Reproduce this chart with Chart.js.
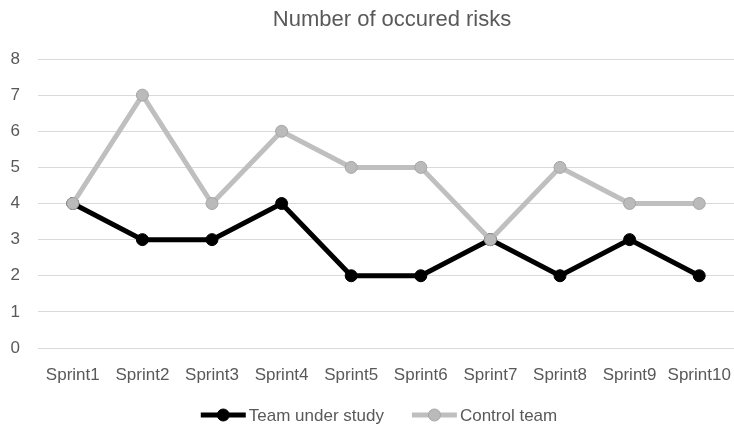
<!DOCTYPE html>
<html>
<head>
<meta charset="utf-8">
<script src="https://cdn.jsdelivr.net/npm/chart.js@4/dist/chart.umd.min.js"></script>
<style>
  html, body { margin: 0; padding: 0; background: #ffffff; }
  #wrap { width: 734px; height: 428px; }
</style>
</head>
<body>
<div id="wrap"><canvas id="c" width="734" height="428"></canvas></div>
<script>
const sprints = ['Sprint1','Sprint2','Sprint3','Sprint4','Sprint5','Sprint6','Sprint7','Sprint8','Sprint9','Sprint10'];
const teamUnderStudy = [4, 3, 3, 4, 2, 2, 3, 2, 3, 2];
const controlTeam = [4, 7, 4, 6, 5, 5, 3, 5, 4, 4];
const yTicks = [0, 1, 2, 3, 4, 5, 6, 7, 8];
const chartTitle = 'Number of occured risks';

const FONT = '"Liberation Sans", "DejaVu Sans", sans-serif';
const TEXT = '#595959';

// order: lower value is painted on top, so the control line sits above the black one
const series = [
  { label: 'Team under study', data: teamUnderStudy, line: '#000000', fill: '#000000', border: '#000000', order: 1 },
  { label: 'Control team', data: controlTeam, line: '#bfbfbf', fill: '#bababa', border: '#a5a5a5', order: 0 }
];

// title above the plot and a legend row with line+marker swatches below the axis
const decorations = {
  id: 'decorations',
  afterDraw(chart) {
    const g = chart.ctx;
    g.save();
    g.fillStyle = TEXT;
    g.textBaseline = 'middle';
    g.textAlign = 'center';
    g.font = '22px ' + FONT;
    g.fillText(chartTitle, 392, 20);

    g.font = '17px ' + FONT;
    g.textAlign = 'left';
    const sw = 45, gapText = 3, gapItem = 28, y = 415;
    const widths = series.map(s => g.measureText(s.label).width);
    const total = widths.reduce((a, w) => a + sw + gapText + w, 0) + gapItem * (series.length - 1);
    let x = 379 - total / 2;
    series.forEach((s, i) => {
      g.strokeStyle = s.line; g.lineWidth = 5; g.lineCap = 'butt';
      g.beginPath(); g.moveTo(x, y); g.lineTo(x + sw, y); g.stroke();
      g.beginPath(); g.arc(x + sw / 2, y, 6, 0, Math.PI * 2);
      g.fillStyle = s.fill; g.fill();
      g.lineWidth = 1; g.strokeStyle = s.border; g.stroke();
      g.fillStyle = TEXT;
      g.fillText(s.label, x + sw + gapText, y + 1);
      x += sw + gapText + widths[i] + gapItem;
    });
    g.restore();
  }
};

new Chart(document.getElementById('c'), {
  type: 'line',
  data: {
    labels: sprints,
    datasets: series.map(s => ({
      label: s.label,
      data: s.data,
      order: s.order,
      borderColor: s.line,
      backgroundColor: s.fill,
      borderWidth: 5,
      pointStyle: 'circle',
      pointRadius: 6,
      pointBackgroundColor: s.fill,
      pointBorderColor: s.border,
      pointBorderWidth: 1,
      tension: 0,
      clip: false
    }))
  },
  plugins: [decorations],
  options: {
    responsive: false,
    animation: false,
    layout: { autoPadding: false, padding: { left: 0, right: 0, top: 59, bottom: 30 } },
    scales: {
      x: {
        offset: true,
        grid: { display: false, drawTicks: false },
        border: { display: false },
        afterFit: scale => { scale.height = 50; scale.paddingLeft = 0; scale.paddingRight = 0; },
        ticks: { color: TEXT, font: { family: FONT, size: 17 }, padding: 17, maxRotation: 0, autoSkip: false }
      },
      y: {
        min: 0, max: 8,
        afterBuildTicks: scale => { scale.ticks = yTicks.map(v => ({ value: v })); },
        afterFit: scale => { scale.width = 38; scale.paddingTop = 0; scale.paddingBottom = 0; },
        grid: { color: '#d9d9d9', lineWidth: 1, drawTicks: false },
        border: { display: false },
        ticks: { color: TEXT, font: { family: FONT, size: 17 }, padding: 18, align: 'center' }
      }
    },
    plugins: {
      title: { display: false },
      legend: { display: false },
      tooltip: { enabled: false }
    }
  }
});
</script>
</body>
</html>
